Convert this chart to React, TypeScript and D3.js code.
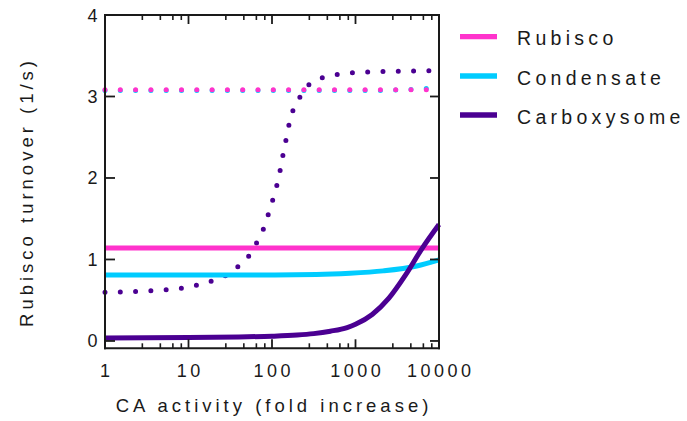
import React from "react";
import * as d3 from "d3";

const seriesNames = ["Rubisco", "Condensate", "Carboxysome"];
const seriesColors = ["#ff33cc", "#00ccff", "#4b0092"];

const xTicks = [1, 10, 100, 1000, 10000];
const xTickLabels = ["1", "10", "100", "1000", "10000"];
const xMinorTicks = [2.8, 4.6, 6.5, 8.2, 28, 46, 65, 82, 280, 460, 650, 820, 2800, 4600, 6500, 8200];
const yTicks = [0, 1, 2, 3, 4];

// solid curves
const rubiscoSolidX = [1, 10000];
const rubiscoSolidY = [1.14, 1.14];
const condensateSolidX = [1, 10, 55, 340, 860, 2150, 5400, 10000];
const condensateSolidY = [0.81, 0.81, 0.81, 0.815, 0.83, 0.86, 0.92, 0.995];
const carboxSolidX = [1, 10, 40, 100, 200, 316, 500, 794, 1000, 1585, 2512, 3981, 6310, 10000];
const carboxSolidY = [0.035, 0.042, 0.05, 0.058, 0.072, 0.09, 0.12, 0.165, 0.205, 0.325, 0.525, 0.81, 1.14, 1.43];

// dotted curves
const rubiscoDotX = [1, 10000];
const rubiscoDotY = [3.083, 3.083];
const condensateDotX = [1, 1000, 3160, 7400, 10000];
const condensateDotY = [3.072, 3.072, 3.08, 3.1, 3.112];
const carboxDotX = [1, 3.5, 8.1, 12.5, 18.6, 28.8, 38.8, 52, 64.3, 78.7, 89.5, 102, 115, 125, 134, 146, 158, 177, 215, 268, 386, 583, 1360, 3160, 7330, 10000];
const carboxDotY = [0.598, 0.617, 0.647, 0.683, 0.733, 0.81, 0.908, 1.034, 1.19, 1.37, 1.54, 1.73, 1.92, 2.09, 2.26, 2.45, 2.63, 2.82, 2.99, 3.13, 3.225, 3.267, 3.3, 3.309, 3.316, 3.318];

const FONT = "'Liberation Sans', Arial, sans-serif";

export default function App() {
  const left = 105, right = 439, top = 15, bottom = 348.3;
  const x = d3.scaleLog().domain([1, 10000]).range([left, right]);
  const y = d3.scaleLinear().domain([-0.09, 4]).range([bottom, top]);

  const line = d3
    .line<[number, number]>()
    .x((d) => x(d[0]))
    .y((d) => y(d[1]))
    .curve(d3.curveMonotoneX);

  const zip = (xs: number[], ys: number[]) => xs.map((v, i) => [v, ys[i]] as [number, number]);

  const dotted = [
    zip(condensateDotX, condensateDotY),
    zip(rubiscoDotX, rubiscoDotY),
    zip(carboxDotX, carboxDotY),
  ];
  const dottedColors = [seriesColors[1], seriesColors[0], seriesColors[2]];
  const solid = [
    zip(rubiscoSolidX, rubiscoSolidY),
    zip(condensateSolidX, condensateSolidY),
    zip(carboxSolidX, carboxSolidY),
  ];

  const axisColor = "#1a1a1a";
  const tickLs = 3.5;
  const labelLs = 4;

  return (
    <svg width={687} height={421} style={{ position: "absolute", left: 0, top: 0 }}>
      <rect width={687} height={421} fill="#fff" />
      {dotted.map((d, i) => (
        <path
          key={"dot" + i}
          d={line(d) || ""}
          fill="none"
          stroke={dottedColors[i]}
          strokeWidth={5}
          strokeLinecap="round"
          strokeDasharray="0 15.3"
        />
      ))}
      {solid.map((d, i) => (
        <path key={"sol" + i} d={line(d) || ""} fill="none" stroke={seriesColors[i]} strokeWidth={5} />
      ))}
      <g stroke={axisColor} fill="none">
        <line x1={left} x2={left} y1={top - 1} y2={bottom + 1} strokeWidth={2} />
        <line x1={right} x2={right} y1={top - 1} y2={bottom + 1} strokeWidth={2} />
        <line x1={left - 1} x2={right + 1} y1={top} y2={top} strokeWidth={2} />
        <line x1={left - 1} x2={right + 1} y1={bottom} y2={bottom} strokeWidth={2} />
        {yTicks.map((t) => (
          <g key={"yt" + t}>
            <line x1={left} x2={left + 10} y1={y(t)} y2={y(t)} strokeWidth={1.8} />
            <line x1={right} x2={right - 9} y1={y(t)} y2={y(t)} strokeWidth={1.8} />
          </g>
        ))}
        {xTicks.map((t) => (
          <g key={"xt" + t}>
            <line x1={x(t)} x2={x(t)} y1={bottom} y2={bottom - 9} strokeWidth={1.8} />
            <line x1={x(t)} x2={x(t)} y1={top} y2={top + 9} strokeWidth={1.8} />
          </g>
        ))}
        {xMinorTicks.map((t) => (
          <g key={"xm" + t}>
            <line x1={x(t)} x2={x(t)} y1={bottom} y2={bottom - 5} strokeWidth={1.6} />
            <line x1={x(t)} x2={x(t)} y1={top} y2={top + 5} strokeWidth={1.6} />
          </g>
        ))}
      </g>
      <g fontFamily={FONT} fontSize={18} fill="#1a1a1a">
        {yTicks.map((t) => (
          <text key={"yl" + t} x={97.5} y={y(t) + 6.5} textAnchor="end">
            {t}
          </text>
        ))}
        {xTicks.map((t, i) => (
          <text
            key={"xl" + t}
            x={x(t) + tickLs / 2}
            y={377}
            textAnchor="middle"
            letterSpacing={tickLs}
          >
            {xTickLabels[i]}
          </text>
        ))}
      </g>
      <text
        x={(left + right) / 2 + labelLs / 2}
        y={411.5}
        textAnchor="middle"
        fontFamily={FONT}
        fontSize={18.5}
        letterSpacing={labelLs}
        fill="#1a1a1a"
      >
        CA activity (fold increase)
      </text>
      <text
        transform={`translate(33,${190 + labelLs / 2}) rotate(-90)`}
        textAnchor="middle"
        fontFamily={FONT}
        fontSize={18.5}
        letterSpacing={labelLs}
        fill="#1a1a1a"
      >
        Rubisco turnover (1/s)
      </text>
      {seriesNames.map((n, i) => {
        const ly = [36.7, 76, 115][i];
        return (
          <g key={"lg" + n}>
            <line x1={460} x2={497} y1={ly} y2={ly} stroke={seriesColors[i]} strokeWidth={5.3} />
            <text
              x={517}
              y={ly + 8.5}
              fontFamily={FONT}
              fontSize={19.5}
              letterSpacing={4.3}
              fill="#1a1a1a"
            >
              {n}
            </text>
          </g>
        );
      })}
    </svg>
  );
}
